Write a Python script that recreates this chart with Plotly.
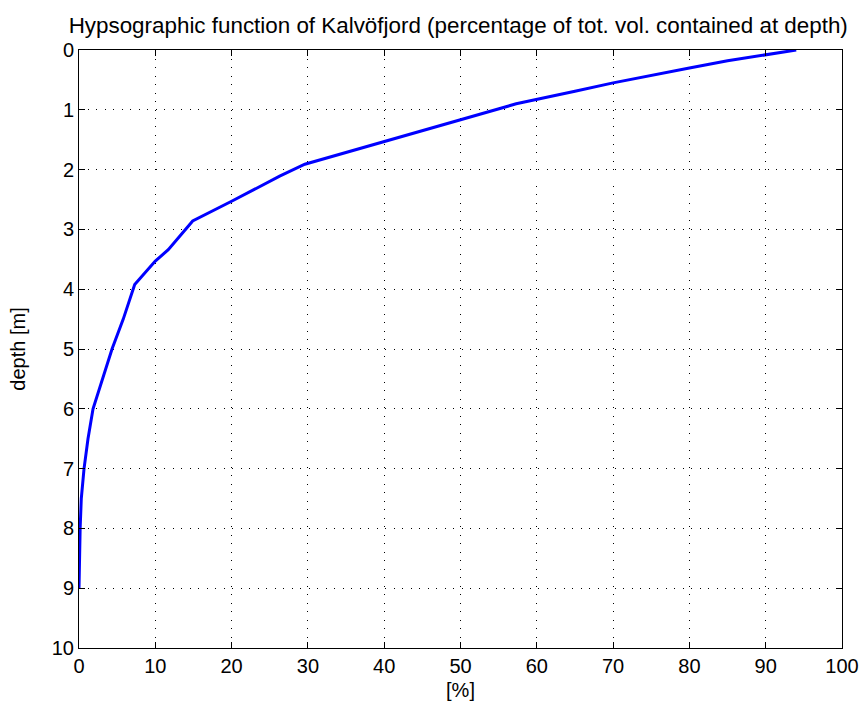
import plotly.graph_objects as go

# Hypsographic curve: share of total volume (%) found below each depth (m)
percent = [94.0, 90.0, 85.0, 80.0, 75.0, 70.0, 65.0, 60.0, 57.3, 29.6,
           26.3, 20.0, 14.9, 11.7, 10.0, 7.3, 5.8, 4.33, 3.05, 1.84, 1.18,
           0.66, 0.30, 0.15, 0.0]
depth = [0.0, 0.075, 0.18, 0.30, 0.42, 0.55, 0.69, 0.83, 0.90, 1.91,
         2.11, 2.53, 2.86, 3.34, 3.53, 3.92, 4.5, 5.0, 5.5, 6.0, 6.5,
         7.0, 7.5, 8.0, 9.0]

x_ticks = list(range(0, 101, 10))
y_ticks = list(range(0, 11, 1))

FONT = "Liberation Sans, Arial, sans-serif"

fig = go.Figure()
fig.add_trace(go.Scatter(
    x=percent, y=depth, mode="lines",
    line=dict(color="#0000ff", width=3),
    hoverinfo="x+y", showlegend=False,
))

axis_common = dict(
    showline=True, linecolor="#000000", linewidth=1, mirror="allticks",
    ticks="inside", ticklen=6, tickwidth=1, tickcolor="#000000",
    showgrid=True, gridcolor="#000000", gridwidth=1, griddash="1px,7.5px",
    zeroline=False, automargin=False,
    tickfont=dict(family=FONT, size=20, color="#000000"),
)

fig.update_layout(
    width=863, height=711,
    margin=dict(l=79, r=21, t=50, b=63),
    paper_bgcolor="white", plot_bgcolor="white",
    font=dict(family=FONT, color="#000000"),
    title=dict(
        text="Hypsographic function of Kalvöfjord (percentage of tot. vol. contained at depth)",
        font=dict(family=FONT, size=22.4, color="#000000"),
        x=0.531, xanchor="center", y=0.965, yanchor="middle",
    ),
    xaxis=dict(
        range=[0, 100], tickvals=x_ticks, ticktext=[str(v) for v in x_ticks],
        title=dict(text="[%]", font=dict(family=FONT, size=20), standoff=6),
        **axis_common,
    ),
    yaxis=dict(
        range=[10, 0], tickvals=y_ticks, ticktext=[str(v) for v in y_ticks],
        title=dict(text="depth [m]", font=dict(family=FONT, size=20), standoff=20),
        **axis_common,
    ),
)

fig.write_html("out.html")
